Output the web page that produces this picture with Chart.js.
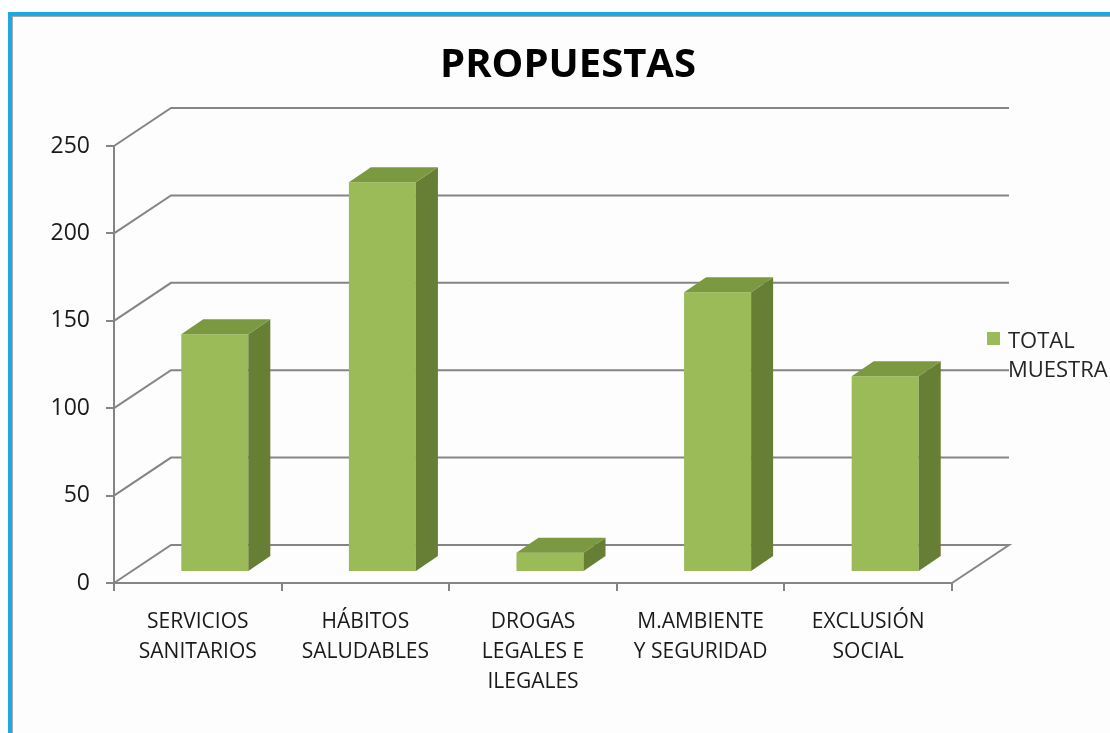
<!DOCTYPE html>
<html>
<head>
<meta charset="utf-8">
<script src="https://cdn.jsdelivr.net/npm/chart.js@4.4.1/dist/chart.umd.min.js"></script>
<style>
  html, body { margin: 0; padding: 0; background: #fff; overflow: hidden; }
  #frame {
    position: absolute; left: 8px; top: 12px; width: 1200px; height: 800px;
    border-left: 4px solid #1ea8e6; border-top: 4px solid #1ea8e6;
    background: #fdfdfd; box-shadow: inset 1px 1px 0 #a9a9a9;
  }
  #wrap { position: absolute; left: 0; top: 0; width: 1110px; height: 733px; }
</style>
</head>
<body>
<div id="frame"></div>
<div id="wrap"><canvas id="chart" width="1110" height="733"></canvas></div>
<script>
// datos del grafico
var categorias = [
  ['SERVICIOS', 'SANITARIOS'],
  ['HÁBITOS', 'SALUDABLES'],
  ['DROGAS', 'LEGALES E', 'ILEGALES'],
  ['M.AMBIENTE', 'Y SEGURIDAD'],
  ['EXCLUSIÓN', 'SOCIAL']
];
var valores = [136, 223, 11, 160, 112];
var serie = 'TOTAL MUESTRA';
var titulo = 'PROPUESTAS';
var ejeY = { min: 0, max: 250, paso: 50 };

var verdeFrente = '#9bbb59';
var verdeLado = '#677f34';
var verdeArriba = '#7a9940';
var gris = '#858585';

// desplazamientos de la perspectiva
var fondo = { dx: 57, dy: -38 };   // pared del fondo
var barra = { dx: 17, dy: -11 };   // plano de las barras
var prof = { dx: 22, dy: -15 };    // profundidad de cada barra

var tresD = {
  id: 'tresD',
  beforeDatasetsDraw: function(chart) {
    var ctx = chart.ctx;
    var y = chart.scales.y;
    var a = chart.chartArea;
    ctx.save();
    ctx.strokeStyle = gris;
    ctx.lineWidth = 2;
    // lineas de division en perspectiva
    y.ticks.forEach(function(t) {
      var py = y.getPixelForValue(t.value);
      ctx.beginPath();
      ctx.moveTo(a.left, py);
      ctx.lineTo(a.left + fondo.dx, py + fondo.dy);
      ctx.lineTo(a.right + fondo.dx, py + fondo.dy);
      if (t.value === ejeY.min) {
        ctx.lineTo(a.right, py);
      }
      ctx.stroke();
    });
    ctx.restore();
    // barras desplazadas hacia el fondo
    ctx.save();
    ctx.translate(barra.dx, barra.dy);
  },
  afterDatasetsDraw: function(chart) {
    var ctx = chart.ctx;
    var meta = chart.getDatasetMeta(0);
    meta.data.forEach(function(bar) {
      var p = bar.getProps(['x', 'y', 'base', 'width'], true);
      var l = p.x - p.width / 2, r = p.x + p.width / 2;
      // cara lateral
      ctx.fillStyle = verdeLado;
      ctx.beginPath();
      ctx.moveTo(r, p.y);
      ctx.lineTo(r + prof.dx, p.y + prof.dy);
      ctx.lineTo(r + prof.dx, p.base + prof.dy);
      ctx.lineTo(r, p.base);
      ctx.closePath();
      ctx.fill();
      // cara superior
      ctx.fillStyle = verdeArriba;
      ctx.beginPath();
      ctx.moveTo(l, p.y);
      ctx.lineTo(l + prof.dx, p.y + prof.dy);
      ctx.lineTo(r + prof.dx, p.y + prof.dy);
      ctx.lineTo(r, p.y);
      ctx.closePath();
      ctx.fill();
    });
    ctx.restore();
  },
  afterDraw: function(chart) {
    var ctx = chart.ctx;
    ctx.save();
    // titulo
    ctx.fillStyle = '#000';
    ctx.font = 'bold 40px "Open Sans"';
    ctx.textAlign = 'center';
    ctx.textBaseline = 'alphabetic';
    ctx.fillText(titulo, 568, 77);
    // leyenda
    var ds = chart.data.datasets[0];
    ctx.fillStyle = ds.backgroundColor;
    ctx.fillRect(987, 332, 13, 13);
    ctx.fillStyle = '#262626';
    ctx.font = '22px "Open Sans"';
    ctx.textAlign = 'left';
    var partes = ds.label.split(' ');
    ctx.fillText(partes[0], 1008, 348);
    ctx.fillText(partes[1], 1008, 377);
    ctx.restore();
  }
};

new Chart(document.getElementById('chart'), {
  type: 'bar',
  data: {
    labels: categorias,
    datasets: [{
      label: serie,
      data: valores,
      backgroundColor: verdeFrente,
      borderWidth: 0,
      categoryPercentage: 1,
      barPercentage: 0.4,
      clip: false
    }]
  },
  options: {
    responsive: false,
    animation: false,
    layout: { padding: { left: 14, right: 158, top: 146, bottom: 0 } },
    plugins: {
      legend: { display: false },
      title: { display: false },
      tooltip: { enabled: false }
    },
    scales: {
      x: {
        afterFit: function(s) { s.height = 150; },
        grid: { drawOnChartArea: false, drawTicks: true, tickLength: 8, color: gris, lineWidth: 2 },
        border: { display: true, color: gris, width: 2 },
        ticks: { color: '#1a1a1a', padding: 16, maxRotation: 0, autoSkip: false,
                 font: { family: 'Open Sans', size: 21, lineHeight: '30px' } }
      },
      y: {
        min: ejeY.min, max: ejeY.max,
        afterFit: function(s) { s.width = 100; },
        grid: { drawOnChartArea: false, drawTicks: true, tickLength: 8, color: gris, lineWidth: 2 },
        border: { display: true, color: gris, width: 2 },
        ticks: { stepSize: ejeY.paso, color: '#1a1a1a', padding: 16,
                 font: { family: 'Open Sans', size: 23 } }
      }
    }
  },
  plugins: [tresD]
});
</script>
</body>
</html>
